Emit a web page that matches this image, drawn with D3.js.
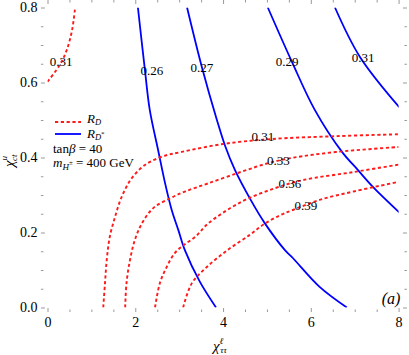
<!DOCTYPE html>
<html>
<head>
<meta charset="utf-8">
<script src="https://cdn.jsdelivr.net/npm/d3@7"></script>
<style>
body { margin: 0; background: #fff; }
text { font-family: "Liberation Serif", "DejaVu Serif", serif; fill: #000; }
</style>
</head>
<body>
<svg width="409" height="355"></svg>
<script>
// tick values
var xMajor = [0, 2, 4, 6, 8];
var yMajor = [0.0, 0.2, 0.4, 0.6, 0.8];
var xMinor = [0.5, 1, 1.5, 2.5, 3, 3.5, 4.5, 5, 5.5, 6.5, 7, 7.5];
var yMinor = [0.05, 0.1, 0.15, 0.25, 0.3, 0.35, 0.45, 0.5, 0.55, 0.65, 0.7, 0.75];

// R_D contours (red, dotted)
var rd031a = [[0.0,0.602],[0.28,0.647],[0.44,0.687],[0.56,0.74],[0.63,0.80]];
var rd031 = [[1.27,0],[1.31,0.065],[1.35,0.127],[1.42,0.189],[1.54,0.242],[1.69,0.295],[1.92,0.345],[2.22,0.38],[2.6,0.402],[3.06,0.415],[4.0,0.436],[5.07,0.449],[6.6,0.457],[8.0,0.462]];
var rd033 = [[1.77,0],[1.80,0.065],[1.88,0.127],[1.99,0.18],[2.15,0.224],[2.41,0.265],[2.79,0.291],[3.13,0.309],[3.66,0.331],[4.42,0.362],[5.03,0.385],[5.57,0.399],[6.6,0.415],[8.0,0.428]];
var rd036 = [[2.45,0],[2.56,0.065],[2.72,0.109],[2.90,0.145],[3.09,0.165],[3.38,0.19],[3.66,0.224],[4.42,0.282],[5.18,0.318],[5.83,0.34],[6.96,0.361],[8.0,0.381]];
var rd039 = [[3.09,0],[3.29,0.065],[3.63,0.108],[4.1,0.153],[4.6,0.193],[4.93,0.222],[5.3,0.246],[5.59,0.26],[6.2,0.287],[7.0,0.31],[8.0,0.335]];

// R_D* contours (blue, solid)
var rds026 = [[2.06,0.80],[2.22,0.633],[2.33,0.527],[2.52,0.42],[2.68,0.331],[2.83,0.26],[2.98,0.207],[3.13,0.153],[3.47,0.069],[3.84,0]];
var rds027 = [[3.18,0.80],[3.52,0.64],[3.86,0.50],[4.05,0.43],[4.27,0.367],[4.63,0.287],[4.95,0.225],[5.41,0.153],[5.59,0.132],[6.2,0.055],[6.82,0]];
var rds029 = [[5.02,0.80],[5.57,0.655],[6.09,0.527],[6.71,0.415],[7.07,0.367],[7.42,0.321],[8.03,0.252]];
var rds031 = [[6.55,0.80],[7.12,0.668],[8.03,0.532]];

// contour label positions [x, y, text]
var rdLabels = [[0.31,0.656,"0.31"],[4.91,0.455,"0.31"],[5.26,0.393,"0.33"],[5.52,0.332,"0.36"],[5.89,0.273,"0.39"]];
var rdsLabels = [[2.38,0.633,"0.26"],[3.52,0.639,"0.27"],[5.46,0.655,"0.29"],[7.19,0.668,"0.31"]];

var svg = d3.select("svg");
var x = d3.scaleLinear().domain([0, 8]).range([47.5, 398.6]);
var y = d3.scaleLinear().domain([0, 0.8]).range([307.5, 7.5]);

var left = x(-0.15), right = x(8.19), top = y(0.815), bottom = y(-0.012);
var gray = "#9a9a9a";

// frame
svg.append("rect")
  .attr("x", left).attr("y", top)
  .attr("width", right - left).attr("height", bottom - top)
  .attr("fill", "none").attr("stroke", gray).attr("stroke-width", 1);

function styleAxis(g) {
  g.attr("font-family", null);
  g.select(".domain").remove();
  g.selectAll("line").attr("stroke", gray);
  g.selectAll("text").attr("font-size", 14).attr("fill", "#000");
}

// bottom
svg.append("g").attr("transform", "translate(0," + bottom + ")")
  .call(d3.axisBottom(x).tickValues(xMajor).tickSize(-4).tickPadding(5).tickFormat(d3.format("d")))
  .call(styleAxis);
svg.append("g").attr("transform", "translate(0," + bottom + ")")
  .call(d3.axisBottom(x).tickValues(xMinor).tickSize(-2.5).tickFormat(""))
  .call(styleAxis);
// top
svg.append("g").attr("transform", "translate(0," + top + ")")
  .call(d3.axisTop(x).tickValues(xMajor).tickSize(-4).tickFormat(""))
  .call(styleAxis);
svg.append("g").attr("transform", "translate(0," + top + ")")
  .call(d3.axisTop(x).tickValues(xMinor).tickSize(-2.5).tickFormat(""))
  .call(styleAxis);
// left
svg.append("g").attr("transform", "translate(" + left + ",0)")
  .call(d3.axisLeft(y).tickValues(yMajor).tickSize(-4).tickPadding(3.5).tickFormat(d3.format(".1f")))
  .call(styleAxis);
svg.append("g").attr("transform", "translate(" + left + ",0)")
  .call(d3.axisLeft(y).tickValues(yMinor).tickSize(-2.5).tickFormat(""))
  .call(styleAxis);
// right
svg.append("g").attr("transform", "translate(" + right + ",0)")
  .call(d3.axisRight(y).tickValues(yMajor).tickSize(-4).tickFormat(""))
  .call(styleAxis);
svg.append("g").attr("transform", "translate(" + right + ",0)")
  .call(d3.axisRight(y).tickValues(yMinor).tickSize(-2.5).tickFormat(""))
  .call(styleAxis);

// clip to data range
svg.append("clipPath").attr("id", "clip")
  .append("rect")
  .attr("x", x(0)).attr("y", y(0.8))
  .attr("width", x(8) - x(0)).attr("height", y(0) - y(0.8));

var line = d3.line()
  .x(function(d) { return x(d[0]); })
  .y(function(d) { return y(d[1]); })
  .curve(d3.curveCatmullRom.alpha(0.5));

var plot = svg.append("g").attr("clip-path", "url(#clip)");

plot.selectAll(".rds")
  .data([rds026, rds027, rds029, rds031])
  .enter().append("path")
  .attr("class", "rds")
  .attr("d", line)
  .attr("fill", "none")
  .attr("stroke", "#0000ff")
  .attr("stroke-width", 1.8);

plot.selectAll(".rd")
  .data([rd031a, rd031, rd033, rd036, rd039])
  .enter().append("path")
  .attr("class", "rd")
  .attr("d", line)
  .attr("fill", "none")
  .attr("stroke", "#ff1a1a")
  .attr("stroke-width", 1.9)
  .attr("stroke-dasharray", "3.2,2.6");

// contour labels
svg.append("g").selectAll("text")
  .data(rdLabels.concat(rdsLabels))
  .enter().append("text")
  .attr("x", function(d) { return x(d[0]); })
  .attr("y", function(d) { return y(d[1]); })
  .attr("dy", "0.35em")
  .attr("text-anchor", "middle")
  .attr("font-size", 13)
  .text(function(d) { return d[2]; });

// legend
var lg = svg.append("g");
lg.append("line").attr("x1", 55).attr("x2", 81).attr("y1", 122).attr("y2", 122)
  .attr("stroke", "#ff1a1a").attr("stroke-width", 1.9).attr("stroke-dasharray", "3.2,2.6");
lg.append("line").attr("x1", 55).attr("x2", 81).attr("y1", 134).attr("y2", 134)
  .attr("stroke", "#0000ff").attr("stroke-width", 1.8);

var t1 = lg.append("text").attr("x", 87).attr("y", 123).attr("font-size", 13);
t1.append("tspan").attr("font-style", "italic").text("R");
t1.append("tspan").attr("font-style", "italic").attr("font-size", 8.5).attr("dy", 2).text("D");

var t2 = lg.append("text").attr("x", 87).attr("y", 137.5).attr("font-size", 13);
t2.append("tspan").attr("font-style", "italic").text("R");
t2.append("tspan").attr("font-style", "italic").attr("font-size", 8.5).attr("dy", 2).text("D");
t2.append("tspan").attr("font-size", 7).attr("dy", -4).text("*");

var t3 = lg.append("text").attr("x", 53).attr("y", 152.5).attr("font-size", 13);
t3.append("tspan").text("tan");
t3.append("tspan").attr("font-style", "italic").text("β");
t3.append("tspan").text(" = 40");

var t4 = lg.append("text").attr("x", 53).attr("y", 167).attr("font-size", 13);
t4.append("tspan").attr("font-style", "italic").text("m");
t4.append("tspan").attr("font-style", "italic").attr("font-size", 9).attr("dy", 2.5).text("H");
t4.append("tspan").attr("font-size", 7).attr("dy", -5).text("±");
t4.append("tspan").attr("dy", 2.5).text(" = 400 GeV");

// panel tag
svg.append("text").attr("x", 391).attr("y", 304)
  .attr("text-anchor", "middle").attr("font-size", 16).attr("font-style", "italic")
  .text("(a)");

// x axis title
var xt = svg.append("text").attr("x", 213).attr("y", 351).attr("font-size", 15);
xt.append("tspan").attr("font-style", "italic").text("χ");
xt.append("tspan").attr("font-style", "italic").attr("font-size", 9).attr("dy", -7).text("ℓ");
xt.append("tspan").attr("font-style", "italic").attr("font-size", 9).attr("dx", -3).attr("dy", 9).text("ττ");

// y axis title
var yt = svg.append("text")
  .attr("transform", "translate(14,157) rotate(-90)")
  .attr("x", -10).attr("y", 0).attr("font-size", 15);
yt.append("tspan").attr("font-style", "italic").text("χ");
yt.append("tspan").attr("font-style", "italic").attr("font-size", 9).attr("dy", -7).text("u");
yt.append("tspan").attr("font-style", "italic").attr("font-size", 9).attr("dx", -5).attr("dy", 10).text("ct");
</script>
</body>
</html>
